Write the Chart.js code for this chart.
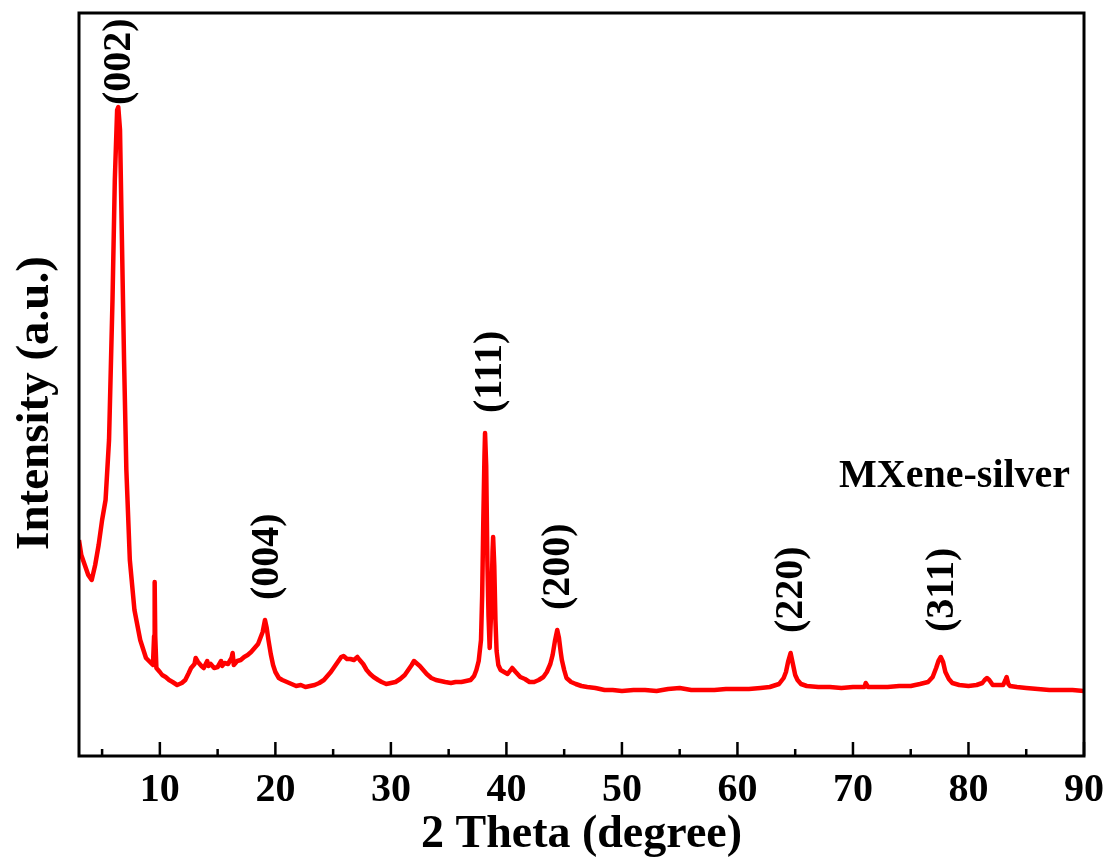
<!DOCTYPE html>
<html>
<head>
<meta charset="utf-8">
<title>XRD MXene-silver</title>
<script src="https://cdn.jsdelivr.net/npm/chart.js@4.4.1/dist/chart.umd.min.js"></script>
<style>
  html, body { margin: 0; padding: 0; background: #ffffff; }
  #wrap { width: 1110px; height: 863px; }
</style>
</head>
<body>
<div id="wrap"><canvas id="xrdChart"></canvas></div>
<script>
// 2 theta (degree)
const twoTheta = [
  3.0, 3.2, 3.5, 3.8, 4.1, 4.4, 4.7, 5.0, 5.3, 5.6, 5.9, 6.1, 6.3, 6.4, 6.55, 6.7, 6.9, 7.1, 7.4, 7.8,
  8.3, 8.8, 9.4, 9.5, 9.55, 9.6, 9.7, 10.0, 10.2, 10.5, 10.8, 11.1, 11.5, 11.9, 12.2, 12.5, 12.7,
  13.0, 13.1, 13.3, 13.6, 13.8, 14.1, 14.2, 14.4, 14.7, 15.0, 15.3, 15.4, 15.6, 15.9, 16.2, 16.3, 16.4, 16.7,
  17.0, 17.3, 17.6, 17.9, 18.2, 18.5, 18.7, 18.9, 19.1, 19.25, 19.4, 19.6, 19.8, 20.0, 20.3, 20.6,
  21.0, 21.4, 21.8, 22.2, 22.6, 23.0, 23.4, 23.8, 24.2, 24.5, 24.8, 25.1, 25.4, 25.7, 25.9, 26.2,
  26.5, 26.8, 27.1, 27.3, 27.6, 27.9, 28.2, 28.5, 28.9, 29.2, 29.6, 30.0, 30.4, 30.8, 31.2, 31.5,
  31.8, 32.0, 32.2, 32.5, 32.8, 33.1, 33.5, 33.9, 34.3, 34.7, 35.2, 35.6, 36.1, 36.5, 36.9, 37.2,
  37.4, 37.6, 37.8, 37.9, 38.0, 38.1, 38.15, 38.25, 38.35, 38.45, 38.55, 38.7, 38.8, 38.85, 38.95, 39.05,
  39.15, 39.3, 39.5, 39.8, 40.1, 40.5, 40.8, 41.2, 41.6, 42.0, 42.4, 42.8, 43.2, 43.5, 43.8, 44.0,
  44.2, 44.4, 44.55, 44.7, 44.8, 45.0, 45.2, 45.6, 46.0, 46.5, 47.0, 47.7, 48.5, 49.2, 50.0, 51.0,
  52.0, 53.0, 54.0, 55.0, 56.0, 57.0, 58.0, 59.0, 60.0, 61.0, 62.0, 62.8, 63.6, 64.0, 64.2, 64.4,
  64.6, 64.8, 65.0, 65.2, 65.5, 66.0, 67.0, 68.0, 69.0, 70.0, 71.0, 71.1, 71.3, 72.0, 73.0, 74.0,
  75.0, 75.8, 76.5, 76.9, 77.2, 77.4, 77.6, 77.8, 78.0, 78.3, 78.6, 79.2, 80.0, 80.7, 81.2, 81.4,
  81.6, 81.8, 82.1, 82.6, 83.0, 83.2, 83.3, 83.45, 83.6, 84.2, 85.0, 86.0, 87.0, 88.0, 89.0, 90.0
];
// intensity (a.u.)
const intensity = [
  216, 201, 191, 181, 176, 191, 211, 236, 256, 316, 456, 576, 646, 649, 626, 526, 396, 286, 196, 146,
  116, 98, 91, 120, 174, 120, 88, 84, 81, 79, 76, 74, 71, 73, 76, 83, 88,
  92, 98, 94, 90, 88, 95, 90, 92, 88, 89, 95, 90, 93, 92, 98, 103, 91, 95,
  96, 99, 101, 104, 108, 112, 118, 124, 136, 128, 116, 102, 91, 84, 78, 76,
  74, 72, 70, 71, 69, 70, 71, 73, 76, 80, 84, 89, 94, 99, 100, 97,
  97, 96, 99, 96, 92, 86, 82, 79, 76, 74, 72, 73, 74, 77, 81, 86,
  91, 95, 93, 90, 86, 82, 78, 76, 75, 74, 73, 74, 74, 75, 76, 80,
  86, 95, 116, 160, 236, 300, 323, 290, 196, 140, 108, 150, 205, 219, 190, 136,
  105, 91, 86, 84, 82, 88, 84, 79, 77, 74, 74, 76, 79, 84, 92, 101,
  115, 126, 118, 104, 96, 86, 78, 74, 72, 70, 69, 68, 66, 66, 65, 66,
  66, 65, 67, 68, 66, 66, 66, 67, 67, 67, 68, 69, 72, 78, 84, 95,
  103, 92, 81, 76, 72, 70, 69, 69, 68, 69, 69, 73, 69, 69, 69, 70,
  70, 72, 74, 79, 88, 95, 99, 94, 84, 77, 73, 71, 70, 71, 73, 76,
  78, 76, 71, 71, 71, 76, 79, 72, 70, 69, 68, 67, 66, 66, 66, 65
];

const xMajorTicks = [10, 20, 30, 40, 50, 60, 70, 80, 90];
const xMinorTicks = [5, 15, 25, 35, 45, 55, 65, 75, 85];

const peakNames = ["(002)", "(004)", "(111)", "(200)", "(220)", "(311)"];
const peakTheta = [6.55, 19.3, 38.6, 44.5, 64.7, 77.8];
const peakLabelIntensity = [651, 156, 343, 146, 123, 124];

const sampleName = "MXene-silver";
const sampleTheta = 78.8;
const sampleIntensity = 269;

const xTitle = "2 Theta (degree)";
const yTitle = "Intensity (a.u.)";

const serif = "'Liberation Serif', 'Times New Roman', serif";
Chart.defaults.font.family = serif;
Chart.defaults.font.weight = "bold";
Chart.defaults.color = "#000000";

const points = twoTheta.map((t, i) => ({ x: t, y: intensity[i] }));

const framePlugin = {
  id: "frame",
  afterDatasetsDraw(chart) {
    const { ctx, chartArea: a, scales } = chart;
    const x = scales.x;
    const y = scales.y;
    ctx.save();
    ctx.strokeStyle = "#000000";
    ctx.lineWidth = 3;
    ctx.strokeRect(a.left, a.top, a.right - a.left, a.bottom - a.top);
    // inward ticks
    ctx.lineWidth = 2.5;
    ctx.beginPath();
    xMajorTicks.forEach((v) => {
      const px = x.getPixelForValue(v);
      ctx.moveTo(px, a.bottom);
      ctx.lineTo(px, a.bottom - 14);
    });
    xMinorTicks.forEach((v) => {
      const px = x.getPixelForValue(v);
      ctx.moveTo(px, a.bottom);
      ctx.lineTo(px, a.bottom - 7);
    });
    ctx.stroke();

    // peak labels
    ctx.fillStyle = "#000000";
    ctx.font = "bold 40px " + serif;
    peakNames.forEach((name, i) => {
      const px = x.getPixelForValue(peakTheta[i]);
      const py = y.getPixelForValue(peakLabelIntensity[i]);
      ctx.save();
      ctx.translate(px, py);
      ctx.rotate(-Math.PI / 2);
      ctx.textAlign = "left";
      ctx.textBaseline = "middle";
      ctx.fillText(name, 0, 0);
      ctx.restore();
    });
    ctx.textAlign = "center";
    ctx.textBaseline = "alphabetic";
    ctx.fillText(sampleName, x.getPixelForValue(sampleTheta), y.getPixelForValue(sampleIntensity));

    // y axis title, sits a little below the middle in the original
    ctx.font = "bold 47px " + serif;
    ctx.save();
    ctx.translate(36, 403);
    ctx.rotate(-Math.PI / 2);
    ctx.textAlign = "center";
    ctx.textBaseline = "middle";
    ctx.fillText(yTitle, 0, 0);
    ctx.restore();
    ctx.restore();
  }
};

const ctx = document.getElementById("xrdChart").getContext("2d");
const xrdChart = new Chart(ctx, {
  type: "line",
  data: {
    datasets: [
      {
        label: sampleName,
        data: points,
        borderColor: "#ff0000",
        borderWidth: 4.5,
        borderJoinStyle: "round",
        pointRadius: 0,
        tension: 0,
        fill: false,
      },
    ],
  },
  options: {
    responsive: true,
    maintainAspectRatio: false,
    animation: false,
    layout: { padding: { top: 13, right: 26, left: 0, bottom: 0 } },
    plugins: {
      legend: { display: false },
      tooltip: { enabled: false },
    },
    scales: {
      x: {
        type: "linear",
        min: 3,
        max: 90,
        grid: { display: false, drawTicks: false },
        border: { display: false },
        afterBuildTicks: (s) => {
          s.ticks = xMajorTicks.map((v) => ({ value: v }));
        },
        afterFit: (s) => {
          s.height = 107;
          s.paddingLeft = 0;
          s.paddingRight = 0;
        },
        ticks: {
          padding: 11,
          maxRotation: 0,
          autoSkip: false,
          font: { size: 40, weight: "bold" },
        },
        title: {
          display: true,
          text: xTitle,
          padding: { top: 0, bottom: 0 },
          font: { size: 46, weight: "bold" },
        },
      },
      y: {
        min: 0,
        max: 743,
        grid: { display: false, drawTicks: false },
        border: { display: false },
        ticks: { display: false },
        afterFit: (s) => { s.width = 79; },
        title: { display: false },
      },
    },
  },
  plugins: [framePlugin],
});
</script>
</body>
</html>
